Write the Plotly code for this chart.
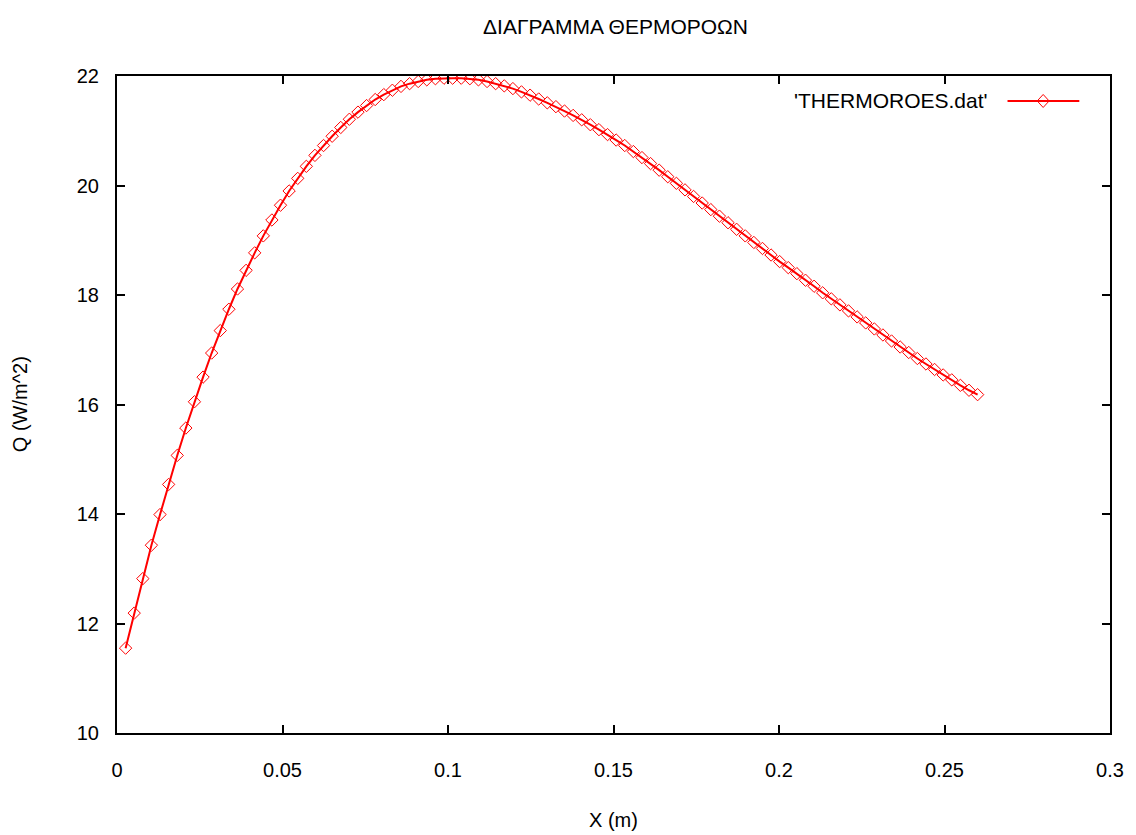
import plotly.graph_objects as go

x_m = [0.0026, 0.0052, 0.0078, 0.0104, 0.0130, 0.0156, 0.0182, 0.0208, 0.0234, 0.0260,
       0.0286, 0.0312, 0.0338, 0.0364, 0.0390, 0.0416, 0.0442, 0.0468, 0.0494, 0.0520,
       0.0546, 0.0572, 0.0598, 0.0624, 0.0650, 0.0676, 0.0702, 0.0728, 0.0754, 0.0780,
       0.0806, 0.0832, 0.0858, 0.0884, 0.0910, 0.0936, 0.0962, 0.0988, 0.1014, 0.1040,
       0.1066, 0.1092, 0.1118, 0.1144, 0.1170, 0.1196, 0.1222, 0.1248, 0.1274, 0.1300,
       0.1326, 0.1352, 0.1378, 0.1404, 0.1430, 0.1456, 0.1482, 0.1508, 0.1534, 0.1560,
       0.1586, 0.1612, 0.1638, 0.1664, 0.1690, 0.1716, 0.1742, 0.1768, 0.1794, 0.1820,
       0.1846, 0.1872, 0.1898, 0.1924, 0.1950, 0.1976, 0.2002, 0.2028, 0.2054, 0.2080,
       0.2106, 0.2132, 0.2158, 0.2184, 0.2210, 0.2236, 0.2262, 0.2288, 0.2314, 0.2340,
       0.2366, 0.2392, 0.2418, 0.2444, 0.2470, 0.2496, 0.2522, 0.2548, 0.2574, 0.2600]

q_wm2 = [11.55, 12.19, 12.82, 13.43, 13.99, 14.54, 15.07, 15.57, 16.05, 16.50,
         16.94, 17.35, 17.74, 18.11, 18.45, 18.77, 19.08, 19.37, 19.64, 19.90,
         20.13, 20.35, 20.55, 20.73, 20.90, 21.06, 21.21, 21.34, 21.46, 21.57,
         21.66, 21.74, 21.81, 21.86, 21.90, 21.93, 21.95, 21.96, 21.96, 21.96,
         21.95, 21.93, 21.90, 21.86, 21.82, 21.77, 21.71, 21.65, 21.58, 21.51,
         21.44, 21.36, 21.28, 21.20, 21.11, 21.02, 20.93, 20.83, 20.73, 20.62,
         20.51, 20.40, 20.28, 20.16, 20.04, 19.92, 19.80, 19.68, 19.56, 19.44,
         19.32, 19.20, 19.08, 18.96, 18.85, 18.73, 18.61, 18.50, 18.39, 18.27,
         18.16, 18.04, 17.93, 17.82, 17.71, 17.60, 17.49, 17.38, 17.27, 17.16,
         17.05, 16.95, 16.84, 16.74, 16.64, 16.54, 16.45, 16.35, 16.26, 16.18]

x_ticks = [0, 0.05, 0.1, 0.15, 0.2, 0.25, 0.3]
x_tick_labels = ["0", "0.05", "0.1", "0.15", "0.2", "0.25", "0.3"]
y_ticks = [10, 12, 14, 16, 18, 20, 22]
y_tick_labels = ["10", "12", "14", "16", "18", "20", "22"]

title_text = "ΔΙΑΓΡΑΜΜΑ ΘΕΡΜΟΡΟΩΝ"
x_title = "X (m)"
y_title = "Q (W/m^2)"
series_name = "'THERMOROES.dat'"

RED = "#ff0000"
FONT = "Liberation Sans, Arial, sans-serif"
FS = 20
FS_BIG = 21

fig = go.Figure()
fig.add_trace(go.Scatter(
    x=x_m, y=q_wm2, mode="lines+markers", name=series_name,
    line=dict(color=RED, width=2),
    marker=dict(symbol="diamond-open", size=9.5, color=RED, line=dict(color=RED, width=1)),
    showlegend=False,
))

axis_common = dict(
    showline=True, linecolor="black", linewidth=2, mirror="ticks",
    ticks="inside", ticklen=8, tickwidth=2, tickcolor="black",
    showgrid=False, zeroline=False,
    tickfont=dict(family=FONT, size=FS, color="black"),
)

fig.update_xaxes(range=[0, 0.3], tickvals=x_ticks, ticktext=x_tick_labels,
                 ticklabelstandoff=18, **axis_common)
fig.update_yaxes(range=[10, 22], tickvals=y_ticks, ticktext=y_tick_labels,
                 ticklabelstandoff=12, **axis_common)

# legend drawn gnuplot-style: text, then line sample with marker
fig.add_annotation(text=series_name, xref="paper", yref="paper", x=0.879, y=0.962,
                   xanchor="right", yanchor="middle", showarrow=False,
                   font=dict(family=FONT, size=FS_BIG, color="black"))
fig.add_shape(type="line", xref="paper", yref="paper", x0=0.8968, x1=0.9691,
              y0=0.962, y1=0.962, line=dict(color=RED, width=2))
fig.add_shape(type="path", xref="paper", yref="paper",
              path="M 0.9267 0.962 L 0.9327 0.9719 L 0.9387 0.962 L 0.9327 0.9521 Z",
              line=dict(color=RED, width=1), fillcolor="rgba(0,0,0,0)")

fig.add_annotation(text=x_title, xref="paper", yref="paper", x=0.5, y=-0.132,
                   xanchor="center", yanchor="middle", showarrow=False,
                   font=dict(family=FONT, size=FS, color="black"))
fig.add_annotation(text=y_title, xref="paper", yref="paper", x=-0.098, y=0.5,
                   xanchor="center", yanchor="middle", showarrow=False, textangle=-90,
                   font=dict(family=FONT, size=FS, color="black"))

fig.update_layout(
    width=1136, height=835,
    margin=dict(l=117, r=21, t=76, b=102),
    paper_bgcolor="white", plot_bgcolor="white",
    title=dict(text=title_text, x=(117.5 + 1113.5) / 2 / 1136, xanchor="center",
               y=1 - 27 / 835, yanchor="middle",
               font=dict(family=FONT, size=FS_BIG, color="black")),
    showlegend=False,
)

fig.write_html("out.html")
